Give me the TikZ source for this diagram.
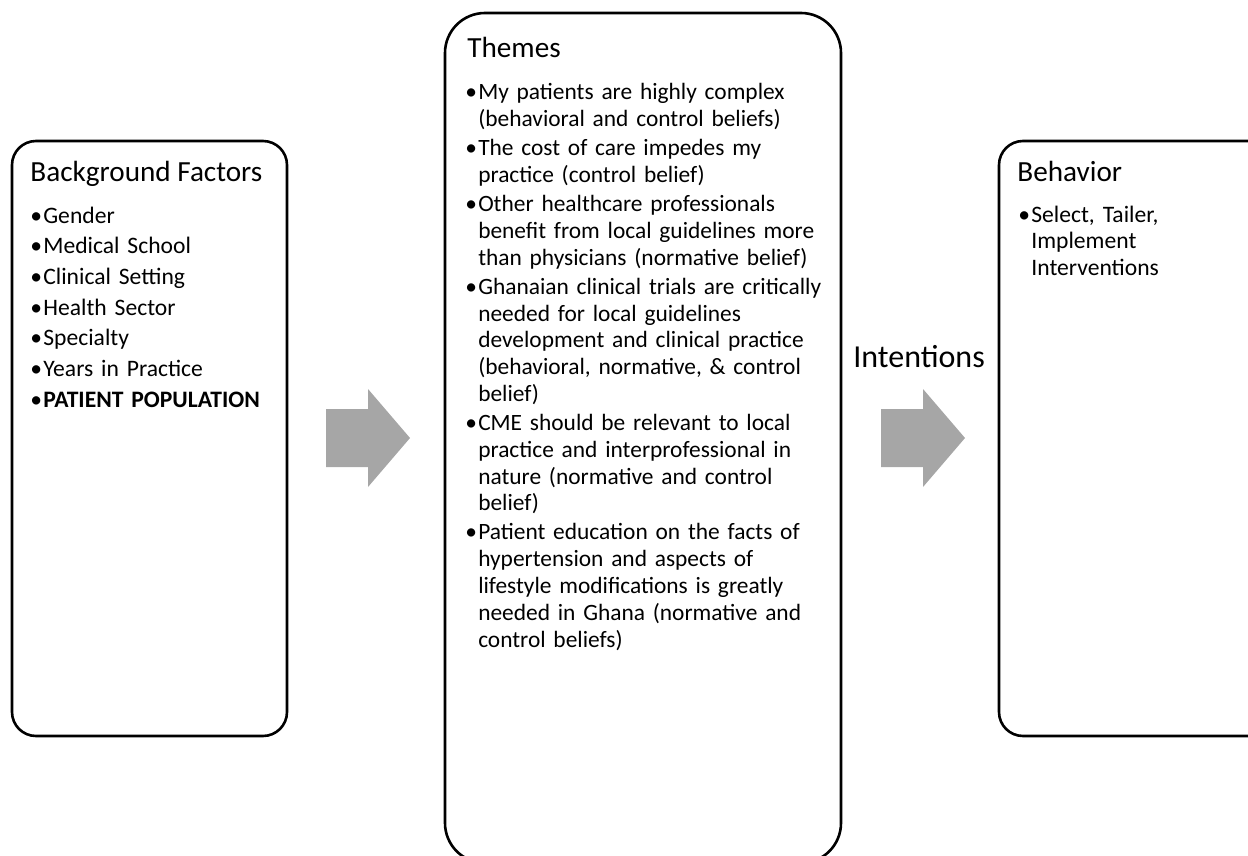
\documentclass[tikz,border=0pt]{standalone}
\usepackage{fontspec}
\setmainfont{Carlito}
\definecolor{arrowgray}{RGB}{166,166,166}
\newcommand{\bitem}[1]{\hangindent=0.55em\hangafter=1\noindent\makebox[0.55em][l]{•}#1\par}
\tikzset{
  box/.style={draw, line width=1.3pt, rounded corners=12pt,
    minimum width=137.5pt, minimum height=297.5pt, inner sep=0pt},
  boxtitle/.style={anchor=base west, inner sep=0pt, font=\fontsize{14.6}{17.5}\selectfont},
  bulletlist/.style={anchor=base west, inner sep=0pt, text width=230pt},
}
\begin{document}
\begin{tikzpicture}[x=0.5pt,y=-0.5pt]
    \useasboundingbox (0,0) rectangle (1248,856);
    \clip (0,0) rectangle (1248,856);
    % the three boxes
    \node[box] (bgbox) at (149.5,438.5) {};
    \node[box, rounded corners=20pt, minimum width=198pt,
      minimum height=425pt] (themebox) at (643,438) {};
    \node[box] (behavbox) at (1136.5,438.5) {};
    % block arrows
    \foreach \ax in {326,881}
      \fill[arrowgray] (\ax,409) -- ++(42,0) -- ++(0,-20) -- ++(42,49)
        -- ++(-42,49) -- ++(0,-20) -- ++(-42,0) -- cycle;
    \node[boxtitle, font=\fontsize{16}{19}\selectfont] (intent) at (853,367) {Intentions};
    % background factors
    \node[boxtitle] (bgtitle) at (30,182) {Background Factors};
    \node[bulletlist, font=\fontsize{11.8}{15.35}\selectfont] (bglist) at (30,223) {%
      \bitem{Gender}
      \bitem{Medical School}
      \bitem{Clinical Setting}
      \bitem{Health Sector}
      \bitem{Specialty}
      \bitem{Years in Practice}
      \bitem{\textbf{PATIENT POPULATION}}};
    % themes
    \node[boxtitle] (thtitle) at (467,58) {Themes};
    \node[bulletlist, font=\fontsize{11.7}{13.42}\selectfont] (thlist) at (465,100) {%
      \setlength{\parskip}{1.05pt}%
      \bitem{My patients are highly complex\newline
        (behavioral and control beliefs)}
      \bitem{The cost of care impedes my\newline
        practice (control belief)}
      \bitem{Other healthcare professionals\newline
        benefit from local guidelines more\newline
        than physicians (normative belief)}
      \bitem{Ghanaian clinical trials are critically\newline
        needed for local guidelines\newline
        development and clinical practice\newline
        (behavioral, normative, \& control\newline
        belief)}
      \bitem{CME should be relevant to local\newline
        practice and interprofessional in\newline
        nature (normative and control\newline
        belief)}
      \bitem{Patient education on the facts of\newline
        hypertension and aspects of\newline
        lifestyle modifications is greatly\newline
        needed in Ghana (normative and\newline
        control beliefs)}};
    % behavior
    \node[boxtitle] (bhtitle) at (1017,182) {Behavior};
    \node[bulletlist, font=\fontsize{11.8}{13.35}\selectfont] (bhlist) at (1018,222) {%
      \bitem{Select, Tailer,\newline
        Implement\newline
        Interventions}};
\end{tikzpicture}
\end{document}
